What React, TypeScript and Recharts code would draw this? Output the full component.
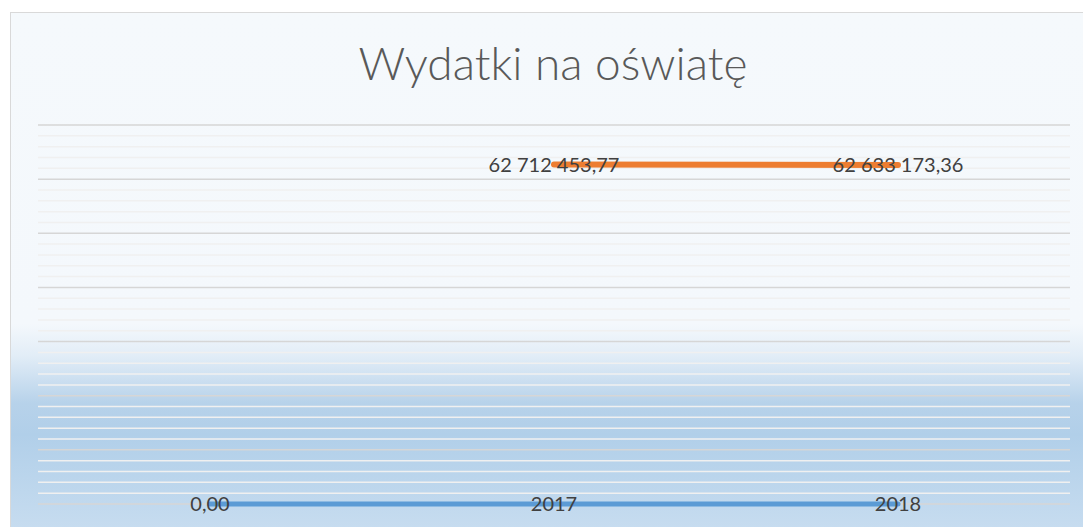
import React from 'react';
import { LineChart, Line, XAxis, YAxis, CartesianGrid, LabelList, ReferenceLine } from 'recharts';

// categories: first one is empty in the source sheet
const categories = ['', '2017', '2018'];
// years typed in as a series by mistake
const yearSeries = [0, 2017, 2018];
// education spending, PLN
const spending = [null, 62712453.77, 62633173.36];

const majorTicks = [0, 10000000, 20000000, 30000000, 40000000, 50000000, 60000000, 70000000];
const minorTicks = Array.from({ length: 36 }, (_, i) => i * 2000000).filter((v) => v % 10000000 !== 0);

const data = categories.map((cat, i) => ({ cat, years: yearSeries[i], spending: spending[i] }));

const fmtPL = (v: number) => {
  const [int, dec] = v.toFixed(2).split('.');
  return int.replace(/\B(?=(\d{3})+(?!\d))/g, ' ') + ',' + dec;
};

const W = 1083;
const H = 527;
const FONT = 'Lato, "Open Sans", sans-serif';

const App: React.FC = () => {
  return (
    <div style={{ position: 'absolute', left: 0, top: 0, width: W, height: H, background: '#fff', overflow: 'hidden' }}>
      <div
        style={{
          position: 'absolute',
          left: 10,
          top: 12,
          width: W,
          height: H,
          borderLeft: '1px solid #d9d9d9',
          borderTop: '1px solid #d9d9d9',
          background:
            'linear-gradient(to bottom, #f5f9fc 0%, #f4f8fc 59%, #e2edf7 65%, #b7d2ea 74%, #b1cfe9 80%, #c8ddf0 99%)',
        }}
      />
      <div
        style={{
          position: 'absolute',
          left: 0,
          top: 40,
          width: 1106,
          textAlign: 'center',
          fontFamily: FONT,
          fontWeight: 300,
          fontSize: 46,
          lineHeight: 1,
          color: '#595959',
        }}
      >
        Wydatki na oświatę
      </div>
      <div style={{ position: 'absolute', left: 0, top: 0 }}>
        <LineChart width={W} height={H} data={data} margin={{ top: 125, right: 13, bottom: 23, left: 38 }}>
          <XAxis dataKey="cat" scale="band" hide />
          <YAxis domain={[0, 70000000]} ticks={majorTicks} interval={0} hide />
          {minorTicks.map((v) => (
            <ReferenceLine key={v} y={v} stroke="#f0f0f0" strokeWidth={1.5} ifOverflow="extendDomain" />
          ))}
          <CartesianGrid vertical={false} stroke="#d6d6d6" strokeWidth={1.5} />
          <Line
            dataKey="years"
            stroke="#5b9bd5"
            strokeWidth={5}
            strokeLinecap="round"
            dot={false}
            isAnimationActive={false}
          >
            <LabelList
              dataKey="years"
              position="center"
              formatter={(v: any) => (v == null ? '' : v === 0 ? fmtPL(0) : String(v))}
              fill="#404040"
              fontSize={20}
              fontFamily={FONT}
            />
          </Line>
          <Line
            dataKey="spending"
            stroke="#ed7d31"
            strokeWidth={6}
            strokeLinecap="round"
            dot={false}
            isAnimationActive={false}
          >
            <LabelList
              dataKey="spending"
              position="center"
              formatter={(v: any) => (v == null ? '' : fmtPL(Number(v)))}
              fill="#404040"
              fontSize={20}
              fontFamily={FONT}
            />
          </Line>
        </LineChart>
      </div>
    </div>
  );
};

export default App;
